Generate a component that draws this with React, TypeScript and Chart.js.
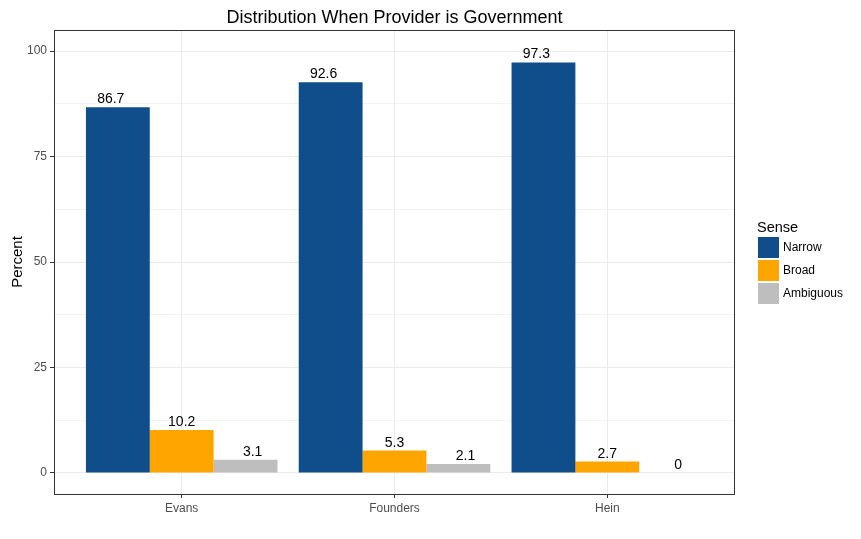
import React, { useEffect, useRef } from "react";
import { Chart, registerables } from "chart.js";

Chart.register(...registerables);

const categories = ["Evans", "Founders", "Hein"];
const senses = ["Narrow", "Broad", "Ambiguous"];
const narrowValues = [86.7, 92.6, 97.3];
const broadValues = [10.2, 5.3, 2.7];
const ambiguousValues = [3.1, 2.1, 0];
const yTickValues = [0, 12.5, 25, 37.5, 50, 62.5, 75, 87.5, 100];
const colors = ["#104E8B", "#FFA500", "#BEBEBE"];
const chartTitle = "Distribution When Provider is Government";
const yTitle = "Percent";
const legendTitle = "Sense";

const FONT = "'Liberation Sans', Arial, sans-serif";

const overlayPlugin = {
  id: "overlay",
  afterDatasetsDraw(chart: any) {
    const { ctx, chartArea, scales } = chart;
    const xs = scales.x;
    const ys = scales.y;
    ctx.save();
    // value labels
    ctx.fillStyle = "#000000";
    ctx.font = `14px ${FONT}`;
    ctx.textAlign = "center";
    ctx.textBaseline = "alphabetic";
    chart.data.datasets.forEach((ds: any, i: number) => {
      ds.data.forEach((pt: any) => {
        const x = xs.getPixelForValue(pt.x + (i - 1) / 3);
        const y = ys.getPixelForValue(pt.y) - 4;
        ctx.fillText(String(pt.y), x, y);
      });
    });
    // panel border
    ctx.strokeStyle = "#333333";
    ctx.lineWidth = 1;
    ctx.strokeRect(
      Math.round(chartArea.left) + 0.5,
      Math.round(chartArea.top) + 0.5,
      Math.round(chartArea.right - chartArea.left) - 1,
      Math.round(chartArea.bottom - chartArea.top)
    );
    ctx.restore();
  },
  afterDraw(chart: any) {
    const { ctx, chartArea } = chart;
    ctx.save();
    // title
    ctx.fillStyle = "#000000";
    ctx.font = `18px ${FONT}`;
    ctx.textAlign = "center";
    ctx.textBaseline = "alphabetic";
    ctx.fillText(chartTitle, (chartArea.left + chartArea.right) / 2, 23);
    // y axis title
    ctx.save();
    ctx.translate(22, (chartArea.top + chartArea.bottom) / 2);
    ctx.rotate(-Math.PI / 2);
    ctx.font = `15px ${FONT}`;
    ctx.textAlign = "center";
    ctx.fillText(yTitle, 0, 0);
    ctx.restore();
    // legend
    ctx.textAlign = "left";
    ctx.font = `14.5px ${FONT}`;
    ctx.fillText(legendTitle, 757, 232);
    ctx.font = `12px ${FONT}`;
    ctx.textBaseline = "middle";
    senses.forEach((s, i) => {
      const top = 237 + i * 23;
      ctx.fillStyle = colors[i];
      ctx.fillRect(758, top, 21, 21);
      ctx.fillStyle = "#000000";
      ctx.fillText(s, 783, top + 11);
    });
    ctx.restore();
  },
};

export default function App() {
  const canvasRef = useRef<HTMLCanvasElement | null>(null);

  useEffect(() => {
    if (!canvasRef.current) return;
    const seriesValues = [narrowValues, broadValues, ambiguousValues];
    const chart = new Chart(canvasRef.current, {
      type: "bar",
      data: {
        datasets: senses.map((s, i) => ({
          label: s,
          data: seriesValues[i].map((v, j) => ({ x: j + 1, y: v })),
          backgroundColor: colors[i],
          borderWidth: 0,
          categoryPercentage: 0.9,
          barPercentage: 1.0,
        })),
      },
      options: {
        animation: false,
        responsive: false,
        maintainAspectRatio: false,
        devicePixelRatio: 1,
        layout: { padding: { left: 0, top: 30, right: 126, bottom: 0 } },
        plugins: {
          legend: { display: false },
          title: { display: false },
          tooltip: { enabled: false },
        },
        scales: {
          x: {
            type: "linear",
            min: 0.4,
            max: 3.6,
            offset: false,
            border: { display: false },
            afterBuildTicks: (scale: any) => {
              scale.ticks = categories.map((_, i) => ({ value: i + 1 }));
            },
            afterFit: (scale: any) => {
              scale.height = 45;
            },
            ticks: {
              autoSkip: false,
              maxRotation: 0,
              color: "#4D4D4D",
              font: { family: FONT, size: 12 },
              padding: 3,
              callback: (v: any) => categories[Math.round(Number(v)) - 1] ?? "",
            },
            grid: {
              offset: false,
              color: "#EBEBEB",
              lineWidth: 1,
              tickColor: "#333333",
              tickLength: 4,
              tickWidth: 1,
            },
          },
          y: {
            type: "linear",
            min: -5,
            max: 105,
            border: { display: false },
            afterBuildTicks: (scale: any) => {
              scale.ticks = yTickValues.map((v) => ({ value: v }));
            },
            afterFit: (scale: any) => {
              scale.width = 54;
            },
            ticks: {
              autoSkip: false,
              color: "#4D4D4D",
              font: { family: FONT, size: 12 },
              padding: 3,
              callback: (v: any) => (Number(v) % 25 === 0 ? String(v) : ""),
            },
            grid: {
              color: "#EBEBEB",
              lineWidth: (ctx: any) => (ctx.tick && ctx.tick.value % 25 === 0 ? 1 : 0.6),
              tickColor: (ctx: any) =>
                ctx.tick && ctx.tick.value % 25 === 0 ? "#333333" : "rgba(0,0,0,0)",
              tickLength: 4,
              tickWidth: 1,
            },
          },
        },
      },
      plugins: [overlayPlugin],
    } as any);
    return () => chart.destroy();
  }, []);

  return (
    <div
      style={{
        position: "fixed",
        left: 0,
        top: 0,
        width: 861,
        height: 539,
        background: "#ffffff",
      }}
    >
      <canvas ref={canvasRef} width={861} height={539} style={{ width: 861, height: 539 }} />
    </div>
  );
}
